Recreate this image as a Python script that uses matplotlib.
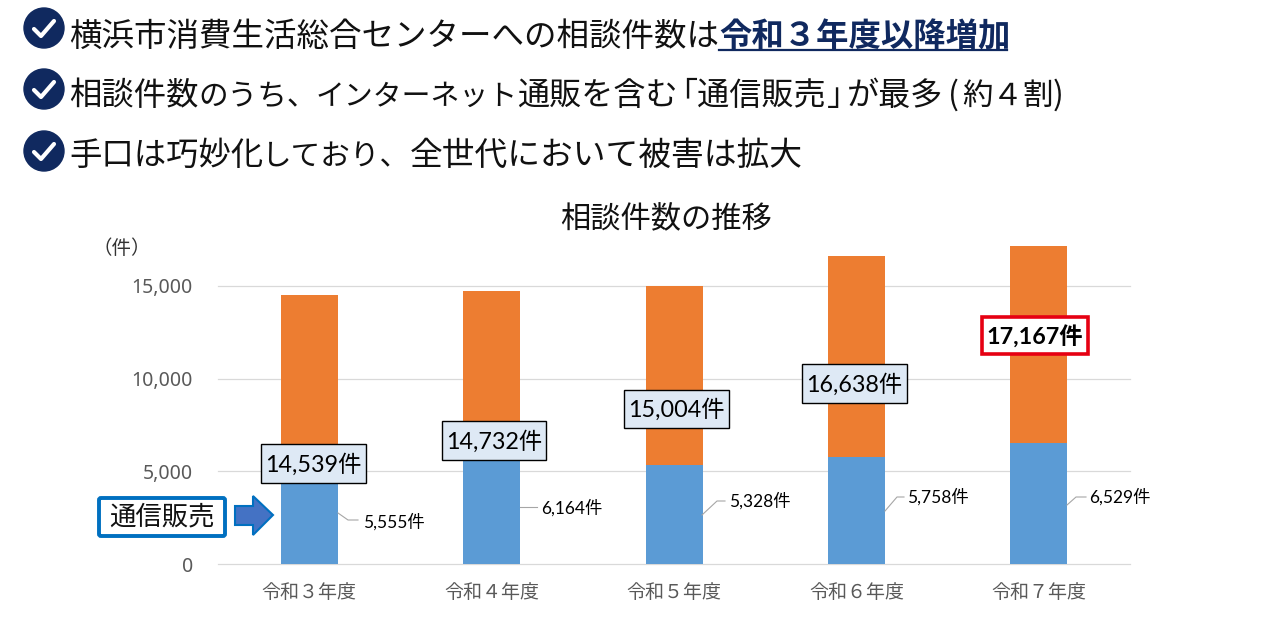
import matplotlib
matplotlib.use('Agg')
import matplotlib.pyplot as plt
from matplotlib.patches import Circle, FancyBboxPatch, Polygon, Rectangle

plt.rcParams['font.family'] = ['Noto Sans CJK JP', 'DejaVu Sans']

# data (\uff1x are the full-width digits used on the slide)
years = ['令和\uff13年度', '令和\uff14年度', '令和\uff15年度', '令和\uff16年度', '令和\uff17年度']
mail_order = [5555, 6164, 5328, 5758, 6529]
totals = [14539, 14732, 15004, 16638, 17167]
others = [t - m for t, m in zip(totals, mail_order)]
y_ticks = [0, 5000, 10000, 15000]

W, H = 1274, 631
LABEL_FONT = ['Lato', 'Noto Sans CJK JP']
NAVY = '#10295F'
INK = '#111111'

fig = plt.figure(figsize=(W / 100, H / 100), dpi=100, facecolor='white')

# chart axes, placed in reference pixels
left, right, bottom_px, top_px = 218, 1130, 564, 230.4
ax = fig.add_axes([left / W, 1 - bottom_px / H, (right - left) / W, (bottom_px - top_px) / H])
x = range(len(years))
ax.bar(x, mail_order, width=0.3125, color='#5B9BD5', zorder=2)
ax.bar(x, others, width=0.3125, bottom=mail_order, color='#ED7D31', zorder=2)
ax.set_xlim(-0.5, 4.5)
ax.set_ylim(0, 18000)
ax.set_yticks(y_ticks)
ax.set_yticklabels([f'{v:,}' for v in y_ticks], family='Noto Sans', fontsize=14, color='#595959')
ax.set_xticks(list(x))
ax.set_xticklabels(years, fontsize=13.7, color='#595959')
ax.tick_params(length=0)
ax.tick_params(axis='x', pad=13)
ax.tick_params(axis='y', pad=18)
ax.grid(axis='y', color='#D9D9D9', lw=0.9, zorder=1, clip_on=False)
for s in ax.spines.values():
    s.set_visible(False)

# overlay in pixel coordinates for the slide furniture
ov = fig.add_axes([0, 0, 1, 1], zorder=5)
ov.set_xlim(0, W)
ov.set_ylim(H, 0)
ov.axis('off')
ov.patch.set_alpha(0)

# check marks
for cy in [28, 89, 151]:
    ov.add_patch(Circle((44, cy), 20, color=NAVY))
    ov.plot([34, 41, 54], [cy + 1, cy + 8, cy - 7], color='white', lw=3, solid_capstyle='round', solid_joinstyle='round')

# header lines, split up because the slide font squeezes kana and punctuation
header_parts = [
    (46, 69, '横浜市消費生活総合センターへの相談件数は', 23.4),
    (105, 69, '相談件数', 23.3),
    (105, 198, 'のうち、', 21.3),
    (105, 316, 'インターネット', 20.8),
    (105, 517, '通販を含む', 23.1),
    (105, 665, '「通信販売', 23.1),
    (105, 827, '\uff63', 23.1),
    (105, 847, 'が最多', 23.1),
    (105, 948, '(', 23.1),
    (105, 962, '約\uff14割', 22),
    (105, 1053, ')', 23.1),
    (165, 69, '手口は巧妙化', 23.3),
    (165, 262, 'しており、', 21.3),
    (165, 410, '全世代において被害は拡大', 23.6),
]
for by, tx, txt, size in header_parts:
    ov.text(tx, by, txt, fontsize=size, color=INK, va='baseline', ha='left')
ov.text(719, 46, '令和\uff13年度以降増加', fontsize=23.3, color=NAVY, fontweight='bold', va='baseline', ha='left')
ov.plot([719, 1007], [50, 50], color=NAVY, lw=1.6)

ov.text(666, 220, '相談件数の推移', fontsize=21.8, color=INK, ha='center', va='center')
ov.text(122, 249, '\uff08件\uff09', fontsize=14, color='#333333', ha='center', va='center')

# total boxes
total_boxes = [(261, 444, 105, 39), (442, 421, 104, 39), (624, 390, 105, 38), (802, 364, 105, 39)]
for (bx, by, bw, bh), t in zip(total_boxes, totals):
    ov.add_patch(Rectangle((bx, by), bw, bh, fc='#DEE9F5', ec='black', lw=1))
    ov.text(bx + bw / 2, by + bh / 2 + 1, f'{t:,}件', family=LABEL_FONT, fontsize=16.8, color='black', ha='center', va='center')
ov.add_patch(Rectangle((982, 317), 106, 37, fc='white', ec='#E60012', lw=2.6))
ov.text(1035, 337, f'{totals[4]:,}件', family=LABEL_FONT, fontsize=16.8, fontweight='bold', color='black', ha='center', va='center')

# mail order labels with leader lines
label_pos = [(394, 522), (572, 508), (760, 501), (938, 497), (1120, 497)]
leaders = [
    ([338, 348, 358], [513, 520, 520]),
    ([520, 530, 537], [507, 507, 507]),
    ([702, 717, 725], [515, 501, 501]),
    ([885, 897, 904], [511, 497, 497]),
    ([1067, 1076, 1086], [505, 497, 497]),
]
for (lx, ly), (xs, ys), v in zip(label_pos, leaders, mail_order):
    ov.plot(xs, ys, color='#A6A6A6', lw=0.8)
    ov.text(lx, ly, f'{v:,}件', family=LABEL_FONT, fontsize=12.5, color='black', ha='center', va='center')

# 通信販売 callout and arrow
ov.add_patch(FancyBboxPatch((99, 498), 126, 38, boxstyle='round,pad=0,rounding_size=2', fc='white', ec='#0070C0', lw=2.8))
ov.text(162, 517, '通信販売', fontsize=19, color=INK, ha='center', va='center')
ov.add_patch(Polygon([(235, 506), (253, 506), (253, 496), (273, 515), (253, 535), (253, 525), (235, 525)],
                     closed=True, fc='#4472C4', ec='#0070C0', lw=1.5))

fig.savefig('out.png', dpi=100)
